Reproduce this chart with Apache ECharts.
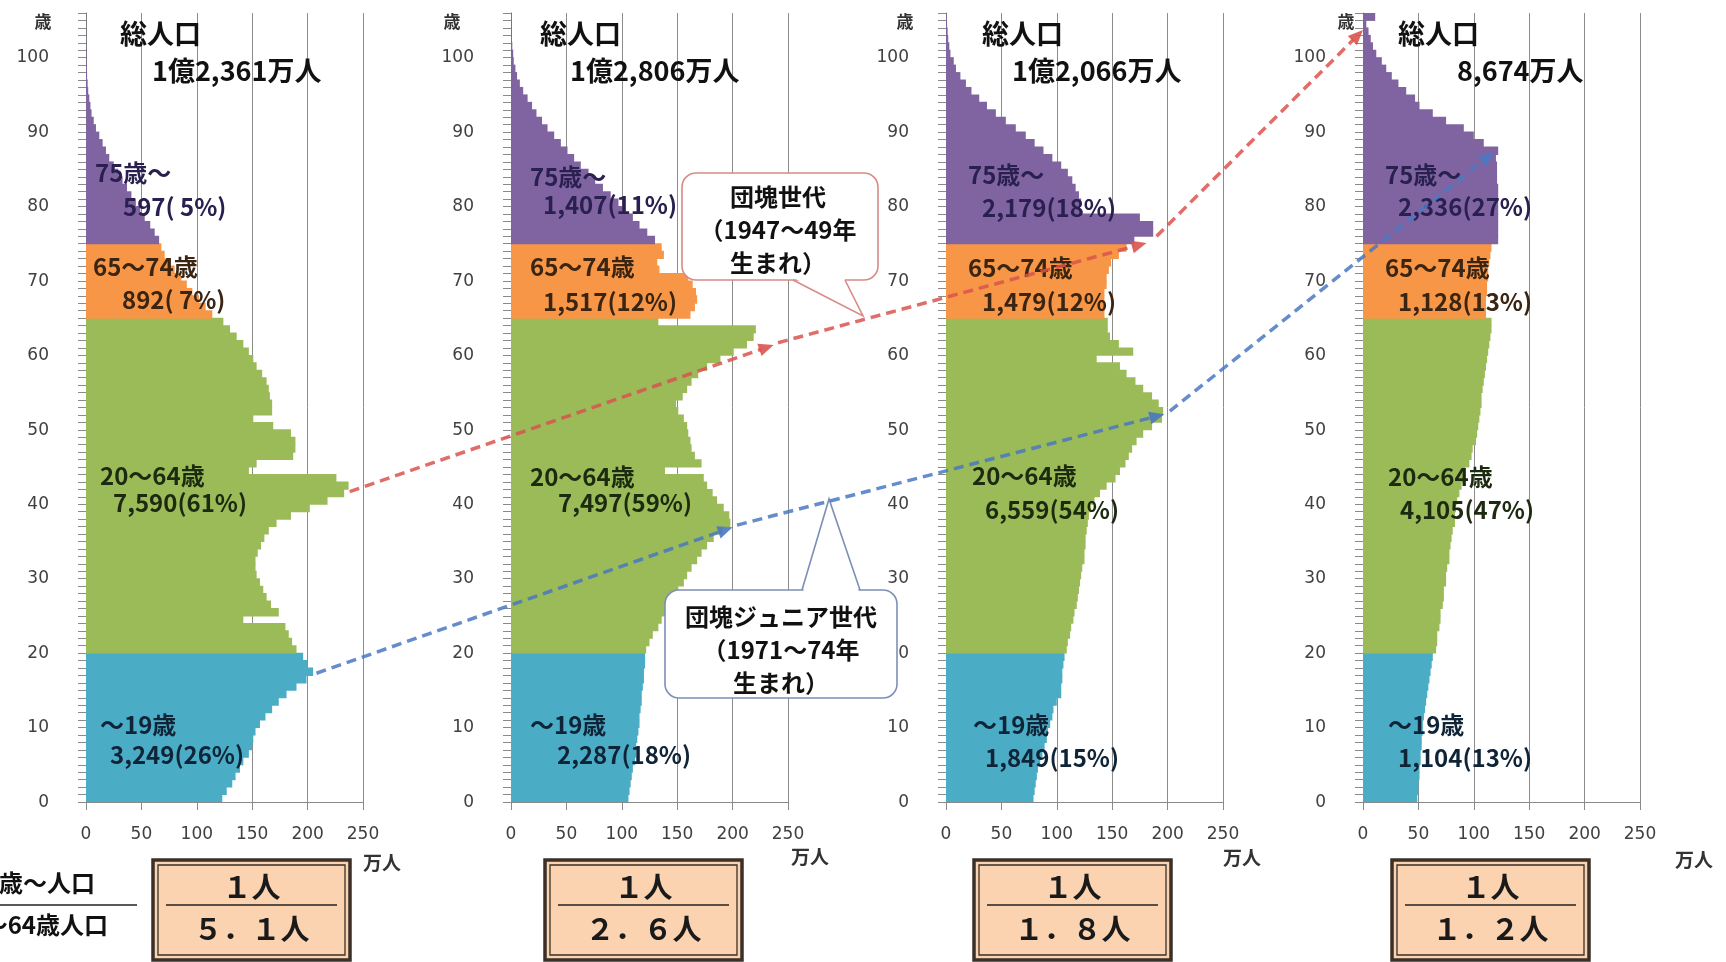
<!DOCTYPE html>
<html><head><meta charset="utf-8">
<script src="https://cdn.jsdelivr.net/npm/echarts@6/dist/echarts.min.js"></script>
<style>html,body{margin:0;padding:0;background:#fff}#c{width:1726px;height:962px}</style>
</head><body><div id="c"></div>
<script>
// ---------- DATA (万人, single years of age; last category = 105) ----------
const ageCategories = Array.from({length:106},(_,i)=>String(i));
const xTicks = [0,50,100,150,200,250];

// Panel 1
const p1Age0to19  = [123,127,132,135,139,142,147,150,151,153,157,162,168,174,181,190,199,205,200,196];
const p1Age20to64 = [190,186,183,180,142,174,167,163,160,157,154,153,153,155,158,161,165,172,185,202,218,233,237,226,147,154,187,189,189,185,169,151,168,168,166,165,163,159,154,151,147,142,136,130,124];
const p1Age65to74 = [114,108,102,96,91,86,80,76,71,68];
const p1Age75up   = [66,62,58,53,49,45,41,37,33,29,25,21,18,15,12,9,7,5,4,3,2,1.5,1,0.6,0.4,0.3,0.2,0.1,0,0,0];
// Panel 2
const p2Age0to19  = [106,107,108,109,110,112,113,113,114,115,116,116,117,118,118,119,120,120,121,121];
const p2Age20to64 = [122,125,128,133,136,139,142,147,151,156,159,163,168,172,177,183,191,198,197,192,186,182,177,174,139,172,166,163,162,160,159,156,151,149,155,159,163,169,177,189,201,213,219,221,133];
const p2Age65to74 = [162,166,168,167,164,160,134,132,138,136];
const p2Age75up   = [130,123,116,110,103,97,90,83,76,70,63,57,51,45,39,33,28,23,19,15,11,8,5.5,4,2.5,2,1.2,0.7,0.4,0.2,0.1];
// Panel 3
const p3Age0to19  = [79,80,81,82,83,85,87,89,91,92,94,96,97,100,104,104,105,105,106,107];
const p3Age20to64 = [109,110,112,113,115,116,118,119,120,121,122,123,125,125,126,126,127,128,129,131,134,139,145,153,157,162,165,168,172,178,186,195,196,192,186,178,171,163,157,136,169,156,148,146,146];
const p3Age65to74 = [143,143,143,143,145,145,147,149,156,163];
const p3Age75up   = [170,187,187,175,121,122,120,117,114,110,104,96,88,80,72,63,54,45,37,30,23,18,13,9,7,4,3,2,1.5,1,0.5];
// Panel 4
const p4Age0to19  = [49,50,50,51,51,52,52,53,53,54,54,55,56,57,58,59,60,61,62,63];
const p4Age20to64 = [66,67,67,69,70,70,72,73,73,75,75,76,78,78,79,80,81,83,83,84,85,87,89,91,92,96,98,99,102,103,104,105,106,107,107,108,109,110,111,112,113,114,115,116,116];
const p4Age65to74 = [111,111,111,112,112,113,113,114,115,116];
const p4Age75up   = [122,122,122,122,122,122,122,122,121,121,121,120,122,109,100,91,75,63,51,47,39,32,26,21,17,12,9,7,5,3,11];

const totalTexts = ['1億2,361万人','1億2,806万人','1億2,066万人','8,674万人'];
const groupNames = ['75歳～','65～74歳','20～64歳','～19歳'];
const groupTotals = [
  ['597( 5%)','892( 7%)','7,590(61%)','3,249(26%)'],
  ['1,407(11%)','1,517(12%)','7,497(59%)','2,287(18%)'],
  ['2,179(18%)','1,479(12%)','6,559(54%)','1,849(15%)'],
  ['2,336(27%)','1,128(13%)','4,105(47%)','1,104(13%)']
];
const ratioTexts = ['５．１人','２．６人','１．８人','１．２人'];
// cohort arrows: [panel, value, ageIndex] start -> end
const dankaiArrows = [ [[0,238,41.2],[1,237,60.9]], [[1,241,61.2],[2,181,74.6]], [[2,190,75.5],[3,0,103.2]] ];
const juniorArrows = [ [[0,208,16.8],[1,200,36.4]], [[1,204,36.7],[2,197,51.6]], [[2,202,52.0],[3,118,86.8]] ];

// ---------- BUILD ----------
const panelValues = [
  p1Age0to19.concat(p1Age20to64,p1Age65to74,p1Age75up),
  p2Age0to19.concat(p2Age20to64,p2Age65to74,p2Age75up),
  p3Age0to19.concat(p3Age20to64,p3Age65to74,p3Age75up),
  p4Age0to19.concat(p4Age20to64,p4Age65to74,p4Age75up)
];
const COLORS = {u20:'#4bacc6', work:'#9bbb59', young:'#f79646', old:'#8064a2'};
function colorOf(a){ return a<20?COLORS.u20 : a<65?COLORS.work : a<75?COLORS.young : COLORS.old; }

const FONT = "'Noto Sans CJK JP','Noto Sans',sans-serif";
const NUMFONT = "'DejaVu Sans',sans-serif";
const gridLefts = [86,511,946,1363];
const GT = 13, GW = 277, GH = 789;

const chart = echarts.init(document.getElementById('c'), null, {width:1726, height:962});

function T(x,y,text,size,o){
  o = o||{};
  return {type:'text', x:x, y:y, z:o.z||50, silent:true,
    style:{text:text, fontSize:size, fontWeight:o.w||'bold', fontFamily:o.f||FONT,
      fill:o.c||'#111', align:o.a||'left', verticalAlign:'middle'}};
}

const g = [];
// titles
const titleX = [[120,152],[540,570],[982,1012],[1398,1457]];
titleX.forEach((p,i)=>{ g.push(T(p[0],34,'総人口',27)); g.push(T(p[1],71,totalTexts[i],27)); });
// "歳" axis captions and "万人"
[43,452,905,1346].forEach(x=>g.push(T(x,22,'歳',17,{a:'center',c:'#333'})));
[[382,863],[810,857],[1242,858],[1694,860]].forEach(p=>g.push(T(p[0],p[1],'万人',19,{a:'center',c:'#333'})));
// group labels
const labelPos = [
  {n:[[95,173],[93,267],[100,476],[100,725]], v:[[123,207],[122,300],[113,503],[110,755]]},
  {n:[[530,177],[530,267],[530,477],[530,725]], v:[[543,205],[543,302],[558,503],[557,755]]},
  {n:[[968,175],[968,268],[972,476],[973,725]], v:[[982,208],[982,302],[985,510],[985,758]]},
  {n:[[1385,175],[1385,268],[1388,477],[1388,725]], v:[[1398,207],[1398,302],[1400,510],[1398,758]]}
];
const labelColors = ['#2a2050','#3a2412','#1c2a10','#0f2436'];
labelPos.forEach((lp,i)=>{
  for(let k=0;k<4;k++){
    g.push(T(lp.n[k][0],lp.n[k][1],groupNames[k],24,{c:labelColors[k]}));
    g.push(T(lp.v[k][0],lp.v[k][1],groupTotals[i][k],24,{c:labelColors[k]}));
  }
});
// ratio boxes
const boxX = [153,545,974,1392];
boxX.forEach((bx,i)=>{
  const w=197, y=860, h=100, cx=bx+w/2;
  g.push({type:'rect', z:40, silent:true, shape:{x:bx,y:y,width:w,height:h}, style:{fill:'#fbd3b1', stroke:'#3a3028', lineWidth:3.5}});
  g.push({type:'rect', z:41, silent:true, shape:{x:bx+5,y:y+5,width:w-10,height:h-10}, style:{fill:'none', stroke:'#3a3028', lineWidth:1.3}});
  g.push({type:'line', z:42, silent:true, shape:{x1:bx+13,y1:905,x2:bx+w-13,y2:905}, style:{stroke:'#222', lineWidth:1.5}});
  g.push(T(cx,887,'１人',29,{a:'center',c:'#1a1a1a',z:43}));
  g.push(T(cx,929,ratioTexts[i],29,{a:'center',c:'#1a1a1a',z:43}));
});
// left ratio caption (partly cut off by the page edge)
g.push(T(95,883,'65歳～人口',24,{a:'right'}));
g.push({type:'line', z:42, silent:true, shape:{x1:0,y1:905,x2:137,y2:905}, style:{stroke:'#222', lineWidth:1.5}});
g.push(T(108,925,'20～64歳人口',24,{a:'right'}));

// callouts
function callout(rect, base1, tip, base2, color, lines, cx, ys){
  const els = [];
  els.push({type:'rect', z:60, silent:true, shape:{x:rect[0],y:rect[1],width:rect[2],height:rect[3],r:14}, style:{fill:'#fff', stroke:color, lineWidth:1.6}});
  const dy = tip[1] > base1[1] ? -2 : 2;
  els.push({type:'polygon', z:61, silent:true, shape:{points:[[base1[0]+1,base1[1]+dy],[tip[0],tip[1]],[base2[0]-1,base2[1]+dy]]}, style:{fill:'#fff'}});
  els.push({type:'polyline', z:62, silent:true, shape:{points:[base1,tip,base2]}, style:{stroke:color, lineWidth:1.6, fill:null}});
  lines.forEach((t,k)=>els.push(T(cx,ys[k],t,24,{a:'center',c:'#111',z:63})));
  return els;
}
callout([682,173,196,107],[793,280],[863,316],[845,280],'#d88a88',['団塊世代','（1947～49年','生まれ）'],778,[197,230,263]).forEach(e=>g.push(e));
callout([665,590,232,108],[802,590],[829,499],[860,590],'#7d8fb5',['団塊ジュニア世代','（1971～74年','生まれ）'],781,[617,650,683]).forEach(e=>g.push(e));

const option = {
  animation:false,
  backgroundColor:'#fff',
  grid: gridLefts.map(l=>({left:l, top:GT, width:GW, height:GH, containLabel:false})),
  xAxis: gridLefts.map((l,i)=>({
    type:'value', gridIndex:i, min:xTicks[0], max:xTicks[xTicks.length-1], interval:xTicks[1]-xTicks[0],
    axisLine:{show:true, lineStyle:{color:'#8a8a8a', width:1}},
    axisTick:{show:true, length:8, lineStyle:{color:'#8a8a8a'}},
    axisLabel:{fontSize:17, color:'#404040', margin:24, fontFamily:NUMFONT},
    splitLine:{show:true, lineStyle:{color:'#8c8c8c', width:1}}
  })),
  yAxis: gridLefts.map((l,i)=>({
    type:'category', gridIndex:i, data:ageCategories,
    axisLine:{show:true, lineStyle:{color:'#7a7a7a', width:1}},
    axisTick:{show:true, interval:0, length:8, lineStyle:{color:'#8a8a8a'}},
    axisLabel:{interval:(idx)=> idx%10===0 && idx<=100, fontSize:17, color:'#404040', margin:37, fontFamily:NUMFONT, verticalAlign:'top', lineHeight:8},
    splitLine:{show:false}
  })),
  series: panelValues.map((vals,i)=>({
    type:'bar', xAxisIndex:i, yAxisIndex:i, silent:true, barWidth:8.4, z:2,
    data: vals.map((v,a)=>({value:v, itemStyle:{color:colorOf(a)}}))
  })),
  graphic: g
};
chart.setOption(option);

// cohort arrows through the chart's own coordinate systems
function px(p){
  const a0 = chart.convertToPixel({gridIndex:p[0]},[p[1],0]);
  const a1 = chart.convertToPixel({gridIndex:p[0]},[p[1],100]);
  return [a0[0], a0[1] + (a1[1]-a0[1])*p[2]/100];
}
function arrow(s,e,color){
  const P=px(s), Q=px(e);
  const dx=Q[0]-P[0], dy=Q[1]-P[1], L=Math.hypot(dx,dy), ux=dx/L, uy=dy/L;
  const hl=15, hw=6.5;
  const bx=Q[0]-ux*hl, by=Q[1]-uy*hl;
  return [
    {type:'line', z:70, silent:true, shape:{x1:P[0],y1:P[1],x2:bx+ux*2,y2:by+uy*2}, style:{stroke:color, lineWidth:3.5, lineDash:[10,6], opacity:0.85}},
    {type:'polygon', z:71, silent:true, shape:{points:[[Q[0],Q[1]],[bx-uy*hw,by+ux*hw],[bx+uy*hw,by-ux*hw]]}, style:{fill:color, opacity:0.9}}
  ];
}
const arrowEls = [];
dankaiArrows.forEach(a=>arrow(a[0],a[1],'#d9534f').forEach(e=>arrowEls.push(e)));
juniorArrows.forEach(a=>arrow(a[0],a[1],'#4a78c2').forEach(e=>arrowEls.push(e)));
chart.setOption({graphic: g.concat(arrowEls)});
</script></body></html>
